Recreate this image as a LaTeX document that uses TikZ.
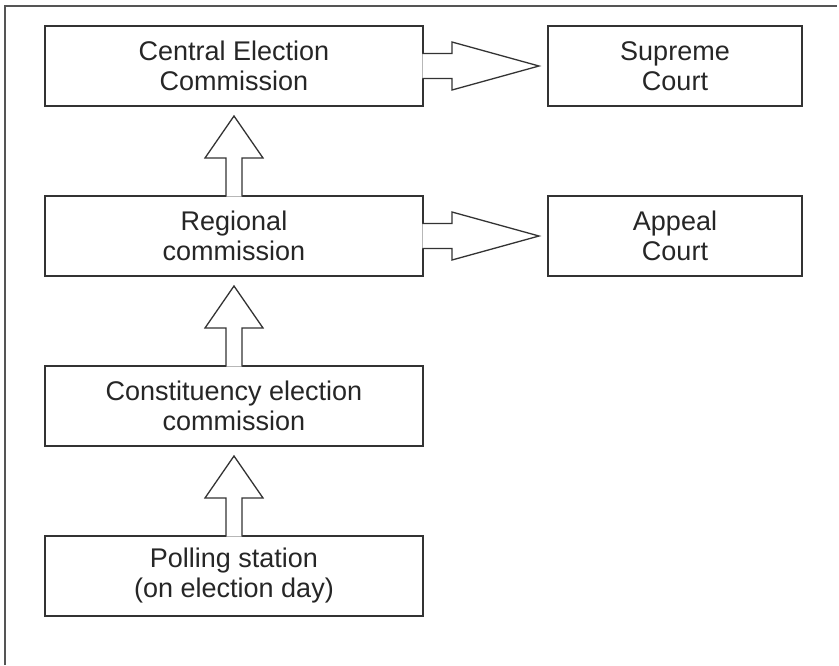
\documentclass[tikz,border=0pt]{standalone}
\usepackage{fontspec}
\setmainfont{Liberation Sans}
\usetikzlibrary{positioning}
\definecolor{boxline}{HTML}{333333}
\definecolor{frameline}{HTML}{555555}

\begin{document}
\begin{tikzpicture}[node distance=170pt,auto,
    organ/.style={draw=boxline,line width=1.3pt,fill=white,minimum width=378pt,minimum height=80pt,
      inner sep=0pt,outer sep=0pt,align=center,text=black!85,font=\fontsize{27}{30}\selectfont},
    court/.style={organ,minimum width=254pt},
    blockarrow/.style={draw=boxline,line width=1.3pt,fill=white,line join=miter}]
    \useasboundingbox (0,0) rectangle (839pt,-665pt);
    % outer frame, top and left only
    \draw[frameline,line width=2pt] (5pt,-665pt) -- (5pt,-6pt) -- (837pt,-6pt);
    % commissions
    \node[organ] (cec) at (234pt,-66pt) {Central Election\\Commission};
    \node[organ] (reg) [below of=cec] {Regional\\commission};
    \node[organ] (con) [below of=reg] {Constituency election\\commission};
    \node[organ] (pol) [below of=con] {Polling station\\(on election day)};
    % courts
    \node[court] (sup) [right of=cec, node distance=441pt] {Supreme\\Court};
    \node[court] (app) [right of=reg, node distance=441pt] {Appeal\\Court};
    % upward block arrows
    \draw[blockarrow] ([xshift=-8pt,yshift=-0.7pt]reg.north) -- ([xshift=-8pt,yshift=38pt]reg.north)
      -- ([xshift=-29pt,yshift=38pt]reg.north) -- ([yshift=-10pt]cec.south)
      -- ([xshift=29pt,yshift=38pt]reg.north) -- ([xshift=8pt,yshift=38pt]reg.north)
      -- ([xshift=8pt,yshift=-0.7pt]reg.north);
    \draw[blockarrow] ([xshift=-8pt,yshift=-0.7pt]con.north) -- ([xshift=-8pt,yshift=38pt]con.north)
      -- ([xshift=-29pt,yshift=38pt]con.north) -- ([yshift=-10pt]reg.south)
      -- ([xshift=29pt,yshift=38pt]con.north) -- ([xshift=8pt,yshift=38pt]con.north)
      -- ([xshift=8pt,yshift=-0.7pt]con.north);
    \draw[blockarrow] ([xshift=-8pt,yshift=-0.7pt]pol.north) -- ([xshift=-8pt,yshift=38pt]pol.north)
      -- ([xshift=-29pt,yshift=38pt]pol.north) -- ([yshift=-10pt]con.south)
      -- ([xshift=29pt,yshift=38pt]pol.north) -- ([xshift=8pt,yshift=38pt]pol.north)
      -- ([xshift=8pt,yshift=-0.7pt]pol.north);
    % block arrows to the courts
    \draw[blockarrow] ([xshift=-0.7pt,yshift=12.5pt]cec.east) -- ([xshift=29pt,yshift=12.5pt]cec.east)
      -- ([xshift=29pt,yshift=24pt]cec.east) -- ([xshift=-9pt]sup.west)
      -- ([xshift=29pt,yshift=-24pt]cec.east) -- ([xshift=29pt,yshift=-12.5pt]cec.east)
      -- ([xshift=-0.7pt,yshift=-12.5pt]cec.east);
    \draw[blockarrow] ([xshift=-0.7pt,yshift=12.5pt]reg.east) -- ([xshift=29pt,yshift=12.5pt]reg.east)
      -- ([xshift=29pt,yshift=24pt]reg.east) -- ([xshift=-9pt]app.west)
      -- ([xshift=29pt,yshift=-24pt]reg.east) -- ([xshift=29pt,yshift=-12.5pt]reg.east)
      -- ([xshift=-0.7pt,yshift=-12.5pt]reg.east);
\end{tikzpicture}
\end{document}
